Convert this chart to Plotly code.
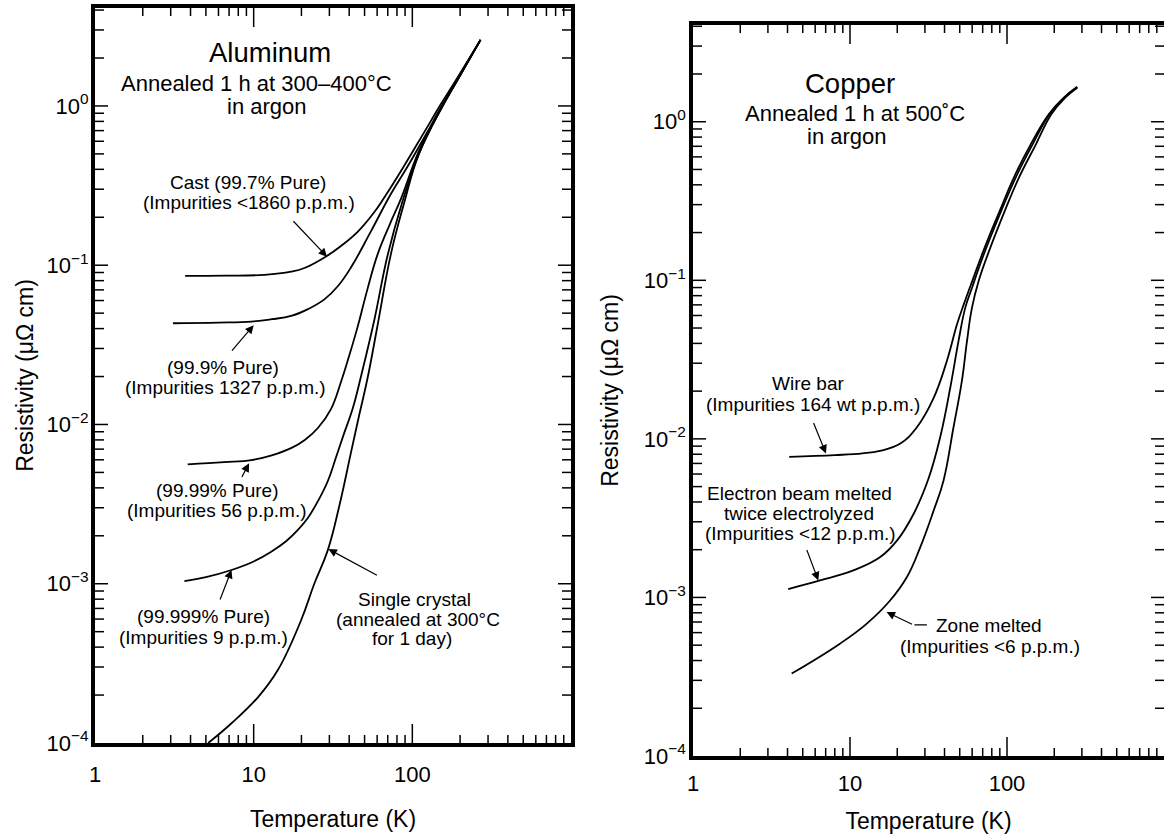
import numpy as np
import plotly.graph_objects as go

# ---------------- data ----------------
# Aluminum, annealed 1 h at 300-400 C in argon
al_cast_T   = [3.7, 6.6, 11.7, 17.2, 20.9, 28.6, 35.5, 45.2, 57.5, 66.4, 88.7, 118.4, 150.8, 192, 269]
al_cast_rho = [0.0857, 0.086, 0.087, 0.091, 0.096, 0.1135, 0.132, 0.162, 0.215, 0.265, 0.42, 0.68, 1.02, 1.5, 2.6]

al_999_T   = [3.1, 6.0, 9.7, 13, 17.2, 22, 27.9, 34, 41.1, 54.8, 73.2, 93.1, 118.4, 150.8, 192, 269]
al_999_rho = [0.0432, 0.0436, 0.0443, 0.0458, 0.048, 0.053, 0.061, 0.074, 0.097, 0.163, 0.28, 0.415, 0.63, 0.97, 1.47, 2.6]

al_9999_T   = [3.84, 6.5, 9.67, 13, 17.2, 21, 25.4, 30.7, 35.5, 40, 45.2, 52, 60.4, 72, 84.6, 110, 150, 192, 269]
al_9999_rho = [0.00562, 0.0058, 0.00598, 0.0064, 0.0071, 0.008, 0.0095, 0.0125, 0.0185, 0.027, 0.041, 0.07, 0.117, 0.18, 0.26, 0.52, 0.95, 1.45, 2.6]

al_99999_T   = [3.66, 5.0, 7.25, 10, 12.9, 16, 19, 22, 25.4, 29.3, 33, 37, 42, 48, 57.5, 69.8, 86, 110, 150, 192, 269]
al_99999_rho = [0.00104, 0.0011, 0.00122, 0.00138, 0.00159, 0.00185, 0.00218, 0.0026, 0.0033, 0.0044, 0.0062, 0.0087, 0.0125, 0.021, 0.045, 0.115, 0.245, 0.5, 0.94, 1.45, 2.6]

al_sc_T   = [5.17, 7.25, 10.7, 14.2, 19.9, 24.1, 29.3, 34.7, 41.1, 46.3, 52.2, 60.4, 73.2, 88.7, 110, 150, 192, 269]
al_sc_rho = [1.0e-4, 1.33e-4, 1.95e-4, 2.87e-4, 5.9e-4, 1.0e-3, 1.62e-3, 3.1e-3, 6.7e-3, 0.0115, 0.0195, 0.042, 0.117, 0.245, 0.5, 0.94, 1.45, 2.6]

# Copper, annealed 1 h at 500 C in argon
cu_wire_T   = [4.1, 8, 12, 15.5, 20.8, 26.6, 34, 41.4, 48, 52.9, 61.2, 72.8, 90, 110, 141, 185, 230, 280]
cu_wire_rho = [0.0077, 0.0079, 0.0081, 0.0084, 0.0093, 0.0118, 0.018, 0.031, 0.0526, 0.07, 0.104, 0.165, 0.275, 0.44, 0.715, 1.12, 1.42, 1.66]

cu_eb_T   = [4.04, 6.44, 10.5, 15.5, 19.9, 25.4, 31.6, 37.5, 43.5, 49.1, 54.2, 59.8, 71, 92, 113, 144.5, 187, 232, 280]
cu_eb_rho = [0.00113, 0.00128, 0.00148, 0.00179, 0.00228, 0.00336, 0.0056, 0.0102, 0.021, 0.0413, 0.067, 0.0895, 0.145, 0.275, 0.44, 0.71, 1.12, 1.42, 1.65]

cu_zone_T   = [4.25, 8.63, 12.8, 18, 23, 28, 34, 39.4, 45.6, 51.6, 55.6, 59.8, 65.9, 78.2, 97, 118.6, 151.7, 192, 235, 280]
cu_zone_rho = [3.31e-4, 5.11e-4, 6.84e-4, 9.56e-4, 1.34e-3, 2.07e-3, 3.5e-3, 5.45e-3, 0.0118, 0.0232, 0.0413, 0.067, 0.0987, 0.16, 0.275, 0.44, 0.71, 1.12, 1.42, 1.64]

# tick labels / tick positions
x_tickvals = [1, 10, 100]
x_ticktext = ["1", "10", "100"]
y_tickvals = [1e-4, 1e-3, 1e-2, 1e-1, 1]
y_ticktext = ["10<sup>\u22124</sup>", "10<sup>\u22123</sup>", "10<sup>\u22122</sup>",
              "10<sup>\u22121</sup>", "10<sup>0</sup>"]
x_major_marks = [10, 100]
x_minor_marks = [k * 10 ** n for n in range(0, 3) for k in range(2, 10)]
y_major_marks = [1e-3, 1e-2, 1e-1, 1]
y_minor_marks = [k * 10.0 ** n for n in range(-4, 1) for k in range(2, 10) if k * 10.0 ** n < 4.1]

# text labels: (text, log10 T, log10 rho, size)
al_texts = [
    ("Aluminum", 1.105, 0.333, 27.5),
    ("Annealed 1 h at 300\u2013400\u00b0C", 1.019, 0.144, 22),
    ("in argon", 1.086, -0.004, 22),
    ("Cast (99.7% Pure)", 0.967, -0.480, 19),
    ("(Impurities <1860 p.p.m.)", 0.969, -0.606, 19),
    ("(99.9% Pure)", 0.808, -1.640, 19),
    ("(Impurities 1327 p.p.m.)", 0.824, -1.766, 19),
    ("(99.99% Pure)", 0.770, -2.415, 19),
    ("(Impurities 56 p.p.m.)", 0.772, -2.540, 19),
    ("(99.999% Pure)", 0.686, -3.204, 19),
    ("(Impurities 9 p.p.m.)", 0.686, -3.336, 19),
    ("Single crystal", 2.011, -3.099, 19),
    ("(annealed at 300\u00b0C", 2.038, -3.223, 19),
    ("for 1 day)", 2.0, -3.346, 19),
]
cu_texts = [
    ("Copper", 1.0, 0.241, 27.5),
    ("Annealed 1 h at 500\u02daC", 1.032, 0.052, 22),
    ("in argon", 0.979, -0.090, 22),
    ("Wire bar", 0.734, -1.651, 19),
    ("(Impurities 164 wt p.p.m.)", 0.762, -1.785, 19),
    ("Electron beam melted", 0.681, -2.342, 19),
    ("twice electrolyzed", 0.676, -2.470, 19),
    ("(Impurities <12 p.p.m.)", 0.685, -2.597, 19),
    ("Zone melted", 1.883, -3.177, 19),
    ("(Impurities <6 p.p.m.)", 1.889, -3.309, 19),
]
# arrows: (tip T, tip rho, tail dx px, tail dy px, head)
al_arrows = [
    (29.0, 0.113, -35, -37, 2),
    (10.0, 0.042, -23, 27, 2),
    (9.36, 0.0057, -8, 15, 2),
    (7.25, 0.00122, -12, 31, 2),
    (29.6, 0.00165, 50, 27, 2),
]
cu_arrows = [
    (7.03, 0.00809, -13, -32, 2),
    (6.28, 0.00128, -12, -32, 2),
    (17.1, 8.09e-4, 27, 13, 2),
    (30.9, 6.72e-4, -14, 0, 0),
]

FONT = "Liberation Sans, Arial, Helvetica, sans-serif"
W, H = 1164, 834
XR = [0, 3]
YR_AL = [-4, 0.615]
YR_CU = [-4, 0.61]
DX_AL = [95 / W, 571 / W]
DY_AL = [1 - 743 / H, 1 - 8 / H]
DX_CU = [693 / W, 1.0]
DY_CU = [1 - 756 / H, 1 - 25 / H]

fig = go.Figure()
line = dict(color="black", width=1.8, shape="spline", smoothing=1.2)
for T, r in [(al_cast_T, al_cast_rho), (al_999_T, al_999_rho), (al_9999_T, al_9999_rho),
             (al_99999_T, al_99999_rho), (al_sc_T, al_sc_rho)]:
    fig.add_trace(go.Scatter(x=T, y=r, mode="lines", line=line, xaxis="x", yaxis="y",
                             showlegend=False, hoverinfo="skip"))
for T, r in [(cu_wire_T, cu_wire_rho), (cu_eb_T, cu_eb_rho), (cu_zone_T, cu_zone_rho)]:
    fig.add_trace(go.Scatter(x=T, y=r, mode="lines", line=line, xaxis="x2", yaxis="y2",
                             showlegend=False, hoverinfo="skip"))

TF = dict(family=FONT, size=22, color="black")
TT = dict(family=FONT, size=23, color="black")


def main_x(domain, anchor, lw, lab_so, title_so):
    return dict(type="log", range=XR, domain=domain, anchor=anchor, automargin=False,
                showline=True, linecolor="black", linewidth=lw, mirror=True,
                ticks="", tickvals=x_tickvals, ticktext=x_ticktext,
                showgrid=False, zeroline=False, ticklabelstandoff=lab_so, tickfont=TF,
                title=dict(text="Temperature (K)", font=TT, standoff=title_so))


def main_y(domain, anchor, lw, mirror, rng, lab_so, title_so):
    return dict(type="log", range=rng, domain=domain, anchor=anchor, automargin=False,
                showline=True, linecolor="black", linewidth=lw, mirror=mirror,
                ticks="", tickvals=y_tickvals, ticktext=y_ticktext,
                showgrid=False, zeroline=False, ticklabelstandoff=lab_so, tickfont=TF,
                title=dict(text="Resistivity (\u03bc\u03a9 cm)", font=TT, standoff=title_so))


# inward tick marks: positioned at data values on the axis, length in pixels
shapes = []
TICK = dict(color="black", width=1.5)


def x_ticks(xref, yref):
    for vals, ln in [(x_major_marks, 19), (x_minor_marks, 8)]:
        for v in vals:
            for anc, sgn in [(0, 1), (1, -1)]:
                shapes.append(dict(type="line", xref=xref, yref=yref + " domain",
                                   x0=v, x1=v,
                                   ysizemode="pixel", yanchor=anc, y0=0, y1=sgn * ln,
                                   line=TICK, layer="above"))


def y_ticks(xref, yref):
    for vals, ln in [(y_major_marks, 13), (y_minor_marks, 9)]:
        for v in vals:
            for anc, sgn in [(0, 1), (1, -1)]:
                shapes.append(dict(type="line", xref=xref + " domain", yref=yref,
                                   y0=v, y1=v,
                                   xsizemode="pixel", xanchor=anc, x0=0, x1=sgn * ln,
                                   line=TICK, layer="above"))


x_ticks("x", "y")
y_ticks("x", "y")
x_ticks("x2", "y2")
y_ticks("x2", "y2")

annotations = []
for texts, xr, yr in [(al_texts, "x", "y"), (cu_texts, "x2", "y2")]:
    for t, lx, ly, s in texts:
        annotations.append(dict(text=t, x=lx, y=ly, xref=xr, yref=yr, showarrow=False,
                                xanchor="center", yanchor="middle",
                                font=dict(family=FONT, size=s, color="black")))
for arrows, xr, yr in [(al_arrows, "x", "y"), (cu_arrows, "x2", "y2")]:
    for T, r, dx, dy, head in arrows:
        annotations.append(dict(text="", x=np.log10(T), y=np.log10(r), xref=xr, yref=yr,
                                showarrow=True, ax=dx, ay=dy, arrowhead=head, arrowsize=1.4,
                                arrowwidth=1.2, arrowcolor="black", standoff=0,
                                startstandoff=0))

fig.update_layout(
    width=W, height=H, autosize=False,
    margin=dict(l=0, r=0, t=0, b=0, autoexpand=False),
    paper_bgcolor="white", plot_bgcolor="white",
    font=dict(family=FONT, color="black"),
    xaxis=main_x(DX_AL, "y", 4, 9, 25),
    yaxis=main_y(DY_AL, "x", 4, True, YR_AL, -2, 8),
    xaxis2=main_x(DX_CU, "y2", 3.5, 5, 20),
    yaxis2=main_y(DY_CU, "x2", 3.5, False, YR_CU, -1, 20),
    annotations=annotations,
    shapes=shapes,
)

fig.write_html(
    "out.html",
    config={"displayModeBar": False, "responsive": False},
    post_script=(
        "document.documentElement.style.margin='0px';"
        "document.body.style.margin='0px';"
        "document.documentElement.style.overflow='hidden';"
        "document.body.style.overflow='hidden';"
        "document.body.style.height='834px';"
        "document.documentElement.style.height='834px';"
    ),
)
